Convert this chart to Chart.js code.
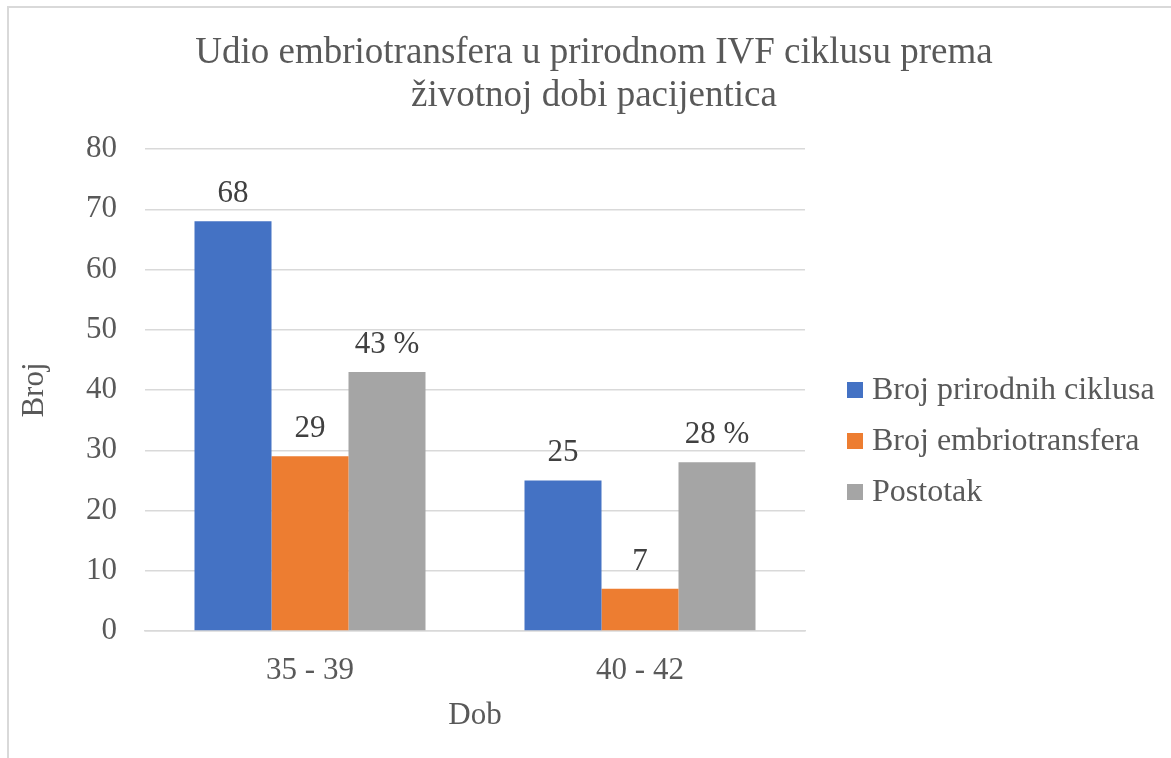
<!DOCTYPE html>
<html>
<head>
<meta charset="utf-8">
<script src="https://cdn.jsdelivr.net/npm/chart.js@4/dist/chart.umd.min.js"></script>
<style>
  body { margin: 0; background: #fff; }
  canvas { display: block; }
</style>
</head>
<body>
<canvas id="chart" width="1171" height="758"></canvas>
<script>
const categories = ['35 - 39', '40 - 42'];
const seriesNames = ['Broj prirodnih ciklusa', 'Broj embriotransfera', 'Postotak'];
const prirodniCiklusi = [68, 25];
const embriotransferi = [29, 7];
const postotak = [43, 28];
const yTicks = [0, 10, 20, 30, 40, 50, 60, 70, 80];
const titleLines = ['Udio embriotransfera u prirodnom IVF ciklusu prema', 'životnoj dobi pacijentica'];
const colors = ['#4472C4', '#ED7D31', '#A5A5A5'];

const FONT = "'Liberation Serif', 'Times New Roman', serif";

// value labels above each bar
const valueLabels = {
  id: 'valueLabels',
  afterDatasetsDraw(chart) {
    const ctx = chart.ctx;
    ctx.save();
    ctx.font = '31px ' + FONT;
    ctx.fillStyle = '#404040';
    ctx.textAlign = 'center';
    ctx.textBaseline = 'alphabetic';
    chart.data.datasets.forEach((ds, i) => {
      chart.getDatasetMeta(i).data.forEach((bar, j) => {
        const txt = ds.label === 'Postotak' ? ds.data[j] + ' %' : String(ds.data[j]);
        ctx.fillText(txt, bar.x, bar.y - 19);
      });
    });
    ctx.restore();
  }
};

// title, legend on the right and the outer frame
const decorations = {
  id: 'decorations',
  afterDraw(chart) {
    const ctx = chart.ctx;
    ctx.save();
    ctx.strokeStyle = '#d9d9d9';
    ctx.lineWidth = 2;
    ctx.beginPath();
    ctx.moveTo(8, 758);
    ctx.lineTo(8, 7);
    ctx.lineTo(1171, 7);
    ctx.stroke();

    ctx.fillStyle = '#595959';
    ctx.font = '37px ' + FONT;
    ctx.textAlign = 'center';
    ctx.textBaseline = 'alphabetic';
    ctx.fillText(titleLines[0], 594, 63);
    ctx.fillText(titleLines[1], 594, 106);

    ctx.font = '32px ' + FONT;
    ctx.textBaseline = 'middle';
    ctx.textAlign = 'left';
    const ys = [390, 441, 492];
    chart.data.datasets.forEach((ds, i) => {
      ctx.fillStyle = ds.backgroundColor;
      ctx.fillRect(847, ys[i] - 8, 16, 16);
      ctx.fillStyle = '#595959';
      ctx.fillText(ds.label, 872, ys[i] + 1);
    });
    ctx.restore();
  }
};

new Chart(document.getElementById('chart'), {
  type: 'bar',
  data: {
    labels: categories,
    datasets: [
      { label: seriesNames[0], data: prirodniCiklusi, backgroundColor: colors[0] },
      { label: seriesNames[1], data: embriotransferi, backgroundColor: colors[1] },
      { label: seriesNames[2], data: postotak, backgroundColor: colors[2] }
    ]
  },
  options: {
    responsive: false,
    animation: false,
    layout: { padding: { left: 8, right: 366, bottom: 20, top: 149 } },
    datasets: { bar: { categoryPercentage: 0.7, barPercentage: 1 } },
    plugins: {
      legend: { display: false },
      tooltip: { enabled: false },
      title: { display: false }
    },
    scales: {
      x: {
        afterFit(scale) { scale.height = 107; },
        grid: { display: false, drawTicks: false },
        border: { color: '#d9d9d9', width: 1.5 },
        ticks: { color: '#595959', padding: 21, font: { family: FONT, size: 31 } },
        title: {
          display: true, text: 'Dob', color: '#595959',
          font: { family: FONT, size: 31 }, padding: { top: 3, bottom: 4 }
        }
      },
      y: {
        min: 0,
        max: 80,
        afterBuildTicks(scale) { scale.ticks = yTicks.map(v => ({ value: v })); },
        afterFit(scale) { scale.width = 137; },
        grid: { color: '#d9d9d9', lineWidth: 1.5, drawTicks: false },
        border: { display: false },
        ticks: { color: '#595959', padding: 28, font: { family: FONT, size: 31 } },
        title: {
          display: true, text: 'Broj', color: '#595959',
          font: { family: FONT, size: 31 }, padding: { top: 8, bottom: 0 }
        }
      }
    }
  },
  plugins: [valueLabels, decorations]
});
</script>
</body>
</html>
